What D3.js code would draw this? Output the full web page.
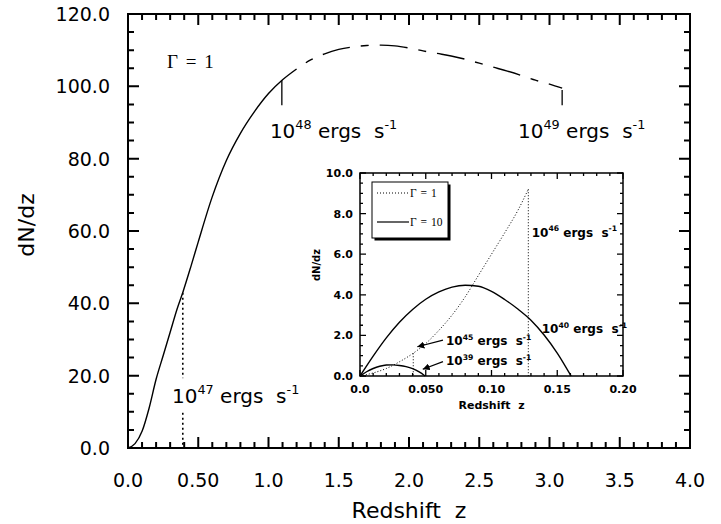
<!DOCTYPE html>
<html>
<head>
<meta charset="utf-8">
<script src="https://cdn.jsdelivr.net/npm/d3@7"></script>
<style>
  body { margin: 0; background: #fff; }
  svg { display: block; }
  text { white-space: pre; }
</style>
</head>
<body>
<svg id="chart"></svg>
<script>
// ---- main panel (Gamma = 1) ----
const mainZ = [0, 0.05, 0.1, 0.15, 0.2, 0.25, 0.3, 0.35, 0.39, 0.45, 0.5, 0.6, 0.7, 0.8, 0.9, 1.0, 1.1, 1.2,
               1.3, 1.4, 1.5, 1.6, 1.7, 1.8, 1.9, 2.0, 2.1, 2.2, 2.3, 2.4, 2.5, 2.6, 2.7, 2.8, 2.9, 3.0, 3.09];
const mainN = [0, 1.2, 4.6, 11, 19, 25.5, 32, 38.5, 43, 50.5, 57, 69.5, 79.5, 87, 93, 98, 101.8, 104.8,
               107.3, 109, 110.2, 110.9, 111.3, 111.4, 111.2, 110.6, 109.8, 109.1, 108.4, 107.5, 106.4, 105.3, 104.2, 103, 101.7, 100.6, 99.5];
const solidUntil = 1.2;   // curve is solid up to here, dash-dot after

const mainMarkZ = [0.39, 1.095, 3.09];
const mainMarkTop = [42.9, 101.7, 99];
const mainMarkBottom = [0, 94.8, 94.8];
const mainLabelExp = ["47", "48", "49"];
const mainLabelZ = [0.313, 1.01, 2.776];
const mainLabelN = [12.4, 85.7, 85.7];

const xTicks = [0, 0.5, 1, 1.5, 2, 2.5, 3, 3.5, 4];
const xTickLabels = ["0.0", "0.50", "1.0", "1.5", "2.0", "2.5", "3.0", "3.5", "4.0"];
const yTicks = [0, 20, 40, 60, 80, 100, 120];
const yTickLabels = ["0.0", "20.0", "40.0", "60.0", "80.0", "100.0", "120.0"];

// ---- inset ----
const g1Z = [0, 0.01, 0.02, 0.03, 0.04, 0.05, 0.06, 0.07, 0.08, 0.09, 0.10, 0.11, 0.12, 0.128];
const g1N = [0, 0.15, 0.37, 0.7, 1.1, 1.6, 2.25, 3.0, 3.9, 4.95, 6.0, 7.05, 8.15, 9.2];
const g10bigZ = [0, 0.01, 0.02, 0.03, 0.04, 0.05, 0.06, 0.07, 0.08, 0.09, 0.10, 0.11, 0.12, 0.13, 0.14, 0.15, 0.1605];
const g10bigN = [0, 0.98, 1.88, 2.65, 3.28, 3.78, 4.14, 4.38, 4.47, 4.42, 4.17, 3.77, 3.3, 2.75, 2.02, 1.13, 0];
const g10smallZ = [0, 0.005, 0.01, 0.015, 0.02, 0.025, 0.03, 0.035, 0.04, 0.045, 0.0495];
const g10smallN = [0, 0.21, 0.37, 0.48, 0.54, 0.55, 0.52, 0.46, 0.36, 0.2, 0];

const insetMarkZ = [0.0405, 0.128];
const insetMarkTop = [1.12, 9.2];
const insetLabelExp = ["46", "40", "45", "39"];
const insetLabelZ = [0.1306, 0.1382, 0.0654, 0.0654];
const insetLabelN = [6.86, 2.12, 1.53, 0.54];
const arrowFromZ = [0.0631, 0.0631], arrowFromN = [1.77, 0.71];
const arrowToZ = [0.0436, 0.0477], arrowToN = [1.44, 0.33];

const insetXTicks = [0, 0.05, 0.1, 0.15, 0.2];
const insetXTickLabels = ["0.0", "0.050", "0.10", "0.15", "0.20"];
const insetYTicks = [0, 2, 4, 6, 8, 10];
const insetYTickLabels = ["0.0", "2.0", "4.0", "6.0", "8.0", "10.0"];
const legendNames = ["\u0393 = 1", "\u0393 = 10"];

const W = 721, H = 524;
const SANS = "'DejaVu Sans', sans-serif";
const SERIF = "'Liberation Serif', 'Times New Roman', serif";

const svg = d3.select("#chart").attr("width", W).attr("height", H);
svg.append("rect").attr("width", W).attr("height", H).attr("fill", "#fff");

const zip = (a, b) => a.map((v, i) => [v, b[i]]);

// inward ticks on all four sides, drawn as one path
function frameTicks(g, xs, ys, xMaj, xMin, yMaj, yMin, big, small, sw) {
    const [x0, x1] = xs.range();
    const [y0, y1] = ys.range();
    const p = d3.path();
    [[xMaj, big], [xMin, small]].forEach(([vals, len]) => vals.forEach(v => {
        p.moveTo(xs(v), y0); p.lineTo(xs(v), y0 - len);
        p.moveTo(xs(v), y1); p.lineTo(xs(v), y1 + len);
    }));
    [[yMaj, big], [yMin, small]].forEach(([vals, len]) => vals.forEach(v => {
        p.moveTo(x0, ys(v)); p.lineTo(x0 + len, ys(v));
        p.moveTo(x1, ys(v)); p.lineTo(x1 - len, ys(v));
    }));
    return g.append("path").attr("d", p.toString())
        .attr("fill", "none").attr("stroke", "#000").attr("stroke-width", sw);
}

function minorOf(max, step, majors) {
    return d3.range(0, max + step / 2, step).filter(v => !majors.some(m => Math.abs(m - v) < step / 10));
}

function tickLabels(g, xs, ys, xv, xl, yv, yl, size, weight, xBase, yGap) {
    const tl = g.append("g").attr("fill", "#000")
        .style("font-family", SANS).style("font-size", size + "px").style("font-weight", weight);
    tl.selectAll(null).data(xv).enter().append("text")
        .attr("x", d => xs(d)).attr("y", ys.range()[0] + xBase).attr("text-anchor", "middle")
        .text((d, i) => xl[i]);
    tl.selectAll(null).data(yv).enter().append("text")
        .attr("x", xs.range()[0] - yGap).attr("y", d => ys(d)).attr("dy", "0.36em").attr("text-anchor", "end")
        .text((d, i) => yl[i]);
}

function expLabel(g, px, py, exp, size, weight) {
    const t = g.append("text").attr("x", px).attr("y", py).attr("fill", "#000")
        .style("font-family", SANS).style("font-size", size + "px").style("font-weight", weight);
    const sup = size * 0.64, up = size * 0.45;
    t.append("tspan").text("10");
    t.append("tspan").attr("dy", -up).style("font-size", sup + "px").text(exp);
    t.append("tspan").attr("dy", up).text(" ergs  s");
    t.append("tspan").attr("dy", -up).style("font-size", sup + "px").text("-1");
    return t;
}

// ================= main panel =================
const x = d3.scaleLinear().domain([0, 4]).range([128, 690]);
const y = d3.scaleLinear().domain([0, 120]).range([448, 14]);
const main = svg.append("g");

tickLabels(main, x, y, xTicks, xTickLabels, yTicks, yTickLabels, 19, "normal", 39, 18);

main.append("text").attr("x", 409).attr("y", 518).attr("text-anchor", "middle")
    .style("font-family", SANS).style("font-size", "22px").text("Redshift  z");
main.append("text").attr("transform", "translate(34,225) rotate(-90)").attr("text-anchor", "middle")
    .style("font-family", SANS).style("font-size", "22px").text("dN/dz");

const line = d3.line().x(d => x(d[0])).y(d => y(d[1])).curve(d3.curveMonotoneX);
const pts = zip(mainZ, mainN);
main.append("path").datum(pts.filter(d => d[0] <= solidUntil))
    .attr("d", line).attr("fill", "none").attr("stroke", "#000").attr("stroke-width", 1.4);
main.append("path").datum(pts.filter(d => d[0] >= solidUntil))
    .attr("d", line).attr("fill", "none").attr("stroke", "#000").attr("stroke-width", 1.4)
    .attr("stroke-dasharray", "28,11,8,11").attr("stroke-dashoffset", 28);

// luminosity markers
mainMarkZ.forEach((z, i) => {
    main.append("line").attr("x1", x(z)).attr("x2", x(z))
        .attr("y1", y(mainMarkTop[i])).attr("y2", y(mainMarkBottom[i]))
        .attr("stroke", "#000").attr("stroke-width", i === 0 ? 1.6 : 1.3)
        .attr("stroke-dasharray", i === 0 ? "2,3" : null);
});
mainLabelExp.forEach((e, i) => {
    const t = expLabel(main, x(mainLabelZ[i]), y(mainLabelN[i]), e, 20, "normal");
    if (i === 0) {
        const b = t.node().getBBox();
        main.insert("rect", () => t.node()).attr("x", b.x).attr("y", b.y - 4)
            .attr("width", b.width).attr("height", b.height + 8).attr("fill", "#fff");
    }
});
main.append("text").attr("x", x(0.278)).attr("y", y(105)).attr("fill", "#000")
    .style("font-family", SERIF).style("font-size", "19px").style("word-spacing", "3px").text("\u0393 = 1");

main.append("rect").attr("x", x(0)).attr("y", y(120))
    .attr("width", x(4) - x(0)).attr("height", y(0) - y(120))
    .attr("fill", "none").attr("stroke", "#000").attr("stroke-width", 2);
frameTicks(main, x, y, xTicks, minorOf(4, 0.1, xTicks), yTicks, minorOf(120, 5, yTicks), 11, 6, 2);

// ================= inset =================
const ix = d3.scaleLinear().domain([0, 0.2]).range([360, 623]);
const iy = d3.scaleLinear().domain([0, 10]).range([376, 173]);
const inset = svg.append("g");
inset.append("rect").attr("x", ix(0)).attr("y", iy(10))
    .attr("width", ix(0.2) - ix(0)).attr("height", iy(0) - iy(10)).attr("fill", "#fff");

const iline = d3.line().x(d => ix(d[0])).y(d => iy(d[1])).curve(d3.curveMonotoneX);
inset.append("path").datum(zip(g1Z, g1N)).attr("d", iline)
    .attr("fill", "none").attr("stroke", "#000").attr("stroke-width", 1).attr("stroke-dasharray", "1,2");
insetMarkZ.forEach((z, i) => {
    inset.append("line").attr("x1", ix(z)).attr("x2", ix(z))
        .attr("y1", iy(insetMarkTop[i])).attr("y2", iy(0))
        .attr("stroke", "#000").attr("stroke-width", 1).attr("stroke-dasharray", "1,2");
});
[zip(g10bigZ, g10bigN), zip(g10smallZ, g10smallN)].forEach(s => {
    inset.append("path").datum(s).attr("d", iline)
        .attr("fill", "none").attr("stroke", "#000").attr("stroke-width", 1.4);
});

tickLabels(inset, ix, iy, insetXTicks, insetXTickLabels, insetYTicks, insetYTickLabels, 11, "bold", 17, 7);

inset.append("text").attr("x", (ix(0) + ix(0.2)) / 2).attr("y", 409).attr("text-anchor", "middle")
    .style("font-family", SANS).style("font-size", "11px").style("font-weight", "bold").text("Redshift  z");
inset.append("text").attr("transform", "translate(320,265) rotate(-90)").attr("text-anchor", "middle")
    .style("font-family", SANS).style("font-size", "10px").style("font-weight", "bold").text("dN/dz");

insetLabelExp.forEach((e, i) => expLabel(inset, ix(insetLabelZ[i]), iy(insetLabelN[i]), e, 12, "bold"));

svg.append("defs").append("marker").attr("id", "ah")
    .attr("viewBox", "0 0 10 10").attr("refX", 10).attr("refY", 5)
    .attr("markerWidth", 7).attr("markerHeight", 7).attr("markerUnits", "userSpaceOnUse").attr("orient", "auto")
    .append("path").attr("d", "M0,0 L10,5 L0,10 Z").attr("fill", "#000");
arrowFromZ.forEach((z, i) => {
    inset.append("line").attr("x1", ix(z)).attr("y1", iy(arrowFromN[i]))
        .attr("x2", ix(arrowToZ[i])).attr("y2", iy(arrowToN[i]))
        .attr("stroke", "#000").attr("stroke-width", 1.2).attr("marker-end", "url(#ah)");
});

inset.append("rect").attr("x", ix(0)).attr("y", iy(10))
    .attr("width", ix(0.2) - ix(0)).attr("height", iy(0) - iy(10))
    .attr("fill", "none").attr("stroke", "#000").attr("stroke-width", 1.5);
frameTicks(inset, ix, iy, insetXTicks, minorOf(0.2, 0.01, insetXTicks), insetYTicks, minorOf(10, 0.5, insetYTicks), 6, 3, 1.3);

// legend box with drop shadow
const lg = inset.append("g").attr("transform", `translate(${ix(0) + 12},${iy(10) + 9})`);
lg.append("rect").attr("x", 2.5).attr("y", 2.5).attr("width", 76).attr("height", 56).attr("fill", "#000");
lg.append("rect").attr("width", 76).attr("height", 56).attr("fill", "#fff").attr("stroke", "#000").attr("stroke-width", 1);
legendNames.forEach((name, i) => {
    const ly = 11 + i * 29;
    lg.append("line").attr("x1", 5).attr("x2", 37).attr("y1", ly).attr("y2", ly)
        .attr("stroke", "#000").attr("stroke-width", i === 0 ? 1 : 1.2)
        .attr("stroke-dasharray", i === 0 ? "1,2" : null);
    lg.append("text").attr("x", 38).attr("y", ly + 4).attr("fill", "#000")
        .style("font-family", SERIF).style("font-size", "11.5px").style("word-spacing", "1px").text(name);
});
</script>
</body>
</html>
